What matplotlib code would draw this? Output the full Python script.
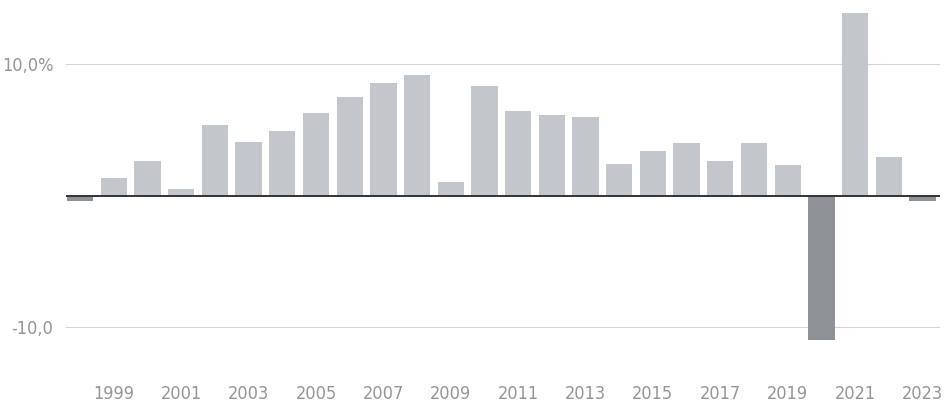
import numpy as np
import matplotlib
matplotlib.use("Agg")
import matplotlib.pyplot as plt
from matplotlib import font_manager

years = list(range(1998, 2024))
growth = [-0.4, 1.3, 2.6, 0.5, 5.4, 4.1, 4.9, 6.3, 7.5, 8.6, 9.2, 1.05, 8.35,
          6.4, 6.1, 6.0, 2.4, 3.4, 4.0, 2.6, 4.0, 2.3, -11.0, 13.9, 2.95, -0.4]
tick_years = list(range(1999, 2024, 2))
ytick_vals = [-10, 10]
ytick_labels = ["-10,0", "10,0%"]

# look for a narrow face, the original uses a condensed type
narrow = None
for f in font_manager.fontManager.ttflist:
    low = f.fname.lower()
    if ('narrow' in low or 'condensed' in low) and f.weight in (400, 'normal') and f.style == 'normal':
        if 'bold' not in low and 'oblique' not in low and 'italic' not in low:
            narrow = f.fname
            if 'sans' in low:
                break
fp = font_manager.FontProperties(fname=narrow, size=13) if narrow else font_manager.FontProperties(family='DejaVu Sans', size=11.5)

fig = plt.figure(figsize=(9.44, 4.03), dpi=100)
ax = fig.add_axes([66/944, 53/403, 874/944, 345/403])

colors = ['#c3c7cb' if v >= 0 else '#8e9296' for v in growth]
ax.bar(years, growth, width=0.78, color=colors, zorder=2)
ax.axhline(0, color='#333333', lw=1.4, zorder=3)

ax.set_xlim(1997.58, 2023.52)
ax.set_ylim(-11.75, 14.5)
ax.set_yticks(ytick_vals)
ax.set_yticklabels(ytick_labels, fontproperties=fp)
ax.set_xticks(tick_years)
ax.set_xticklabels([str(y) for y in tick_years], fontproperties=fp)
ax.grid(axis='y', color='#d4d4d4', lw=0.8, zorder=0)
ax.tick_params(axis='both', length=0, colors='#959595')
ax.tick_params(axis='x', pad=25)
ax.tick_params(axis='y', pad=9)
for s in ax.spines.values():
    s.set_visible(False)

fig.savefig("out.png", dpi=100)
